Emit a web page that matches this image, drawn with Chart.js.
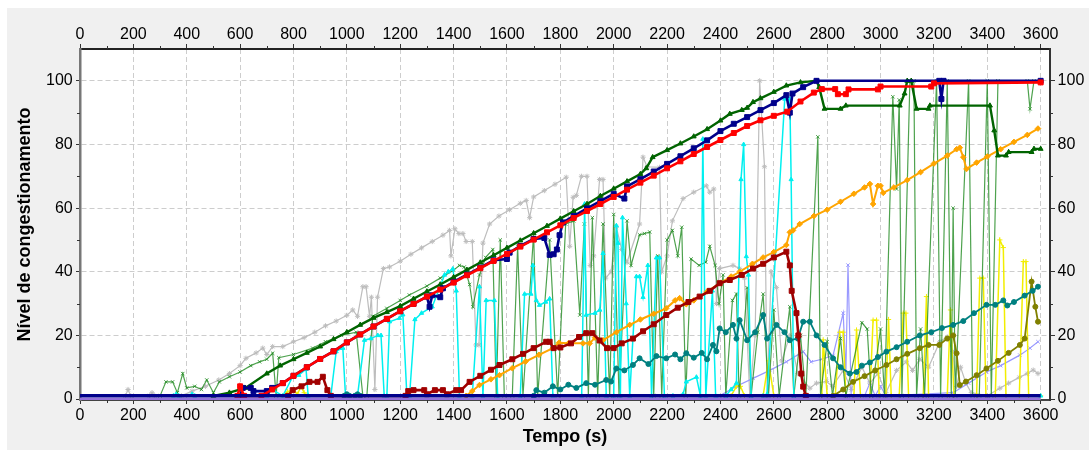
<!DOCTYPE html>
<html>
<head>
<meta charset="utf-8">
<script src="https://cdn.jsdelivr.net/npm/chart.js@4.4.1/dist/chart.umd.min.js"></script>
<style>
  body { margin: 0; background: #fff; }
  #frame { position: absolute; left: 7px; top: 8px; width: 1082px; height: 442px; background: #f0f0f0; }
  #myChart { position: absolute; left: 0; top: 0; }
</style>
</head>
<body>
<div id="frame"></div>
<canvas id="myChart" width="1089" height="452"></canvas>
<script>
const xTicks = [0, 200, 400, 600, 800, 1000, 1200, 1400, 1600, 1800, 2000, 2200, 2400, 2600, 2800, 3000, 3200, 3400, 3600];
const yTicks = [0, 20, 40, 60, 80, 100];

// [tempo (s), nivel]
const baseNavy = [[0, 1], [3600, 1]];
const basePurple = [[0, 0], [3600, 0]];

const redPts = [[590,1],[600,4],[615,1],[680,1],[720,3],[760,5],[800,7.3],[850,10],[900,12.6],[950,15],[1000,17.8],[1050,20.3],[1100,22.8],[1150,25.2],[1200,27.6],[1250,29.9],[1300,32.2],[1350,34.4],[1400,36.6],[1450,38.9],[1500,41.1],[1550,43.4],[1600,45.6],[1650,47.9],[1700,50.1],[1750,52.4],[1800,54.6],[1850,56.9],[1900,59.1],[1950,61.3],[2000,63.5],[2050,65.8],[2100,68],[2150,70.2],[2200,72.5],[2250,74.7],[2300,77],[2350,79.2],[2400,81.4],[2450,83.6],[2500,85.8],[2550,87.6],[2600,89],[2650,90.3],[2700,93.5],[2750,96.3],[2780,97.4],[2830,97.4],[2840,95.8],[2870,95.8],[2880,97.3],[2990,97.3],[3000,98.2],[3190,98.2],[3200,99.2],[3600,99.5]];

const navyPts = [[600,1],[610,3.5],[640,3.5],[650,2.5],[700,2.5],[720,3.5],[760,5],[800,7.3],[850,10],[900,12.6],[950,15],[1000,17.8],[1050,20.3],[1100,22.8],[1150,25.2],[1200,27.6],[1250,29.9],[1300,32.2],[1310,29],[1320,32.6],[1350,32],[1360,34.8],[1400,36.8],[1450,39.1],[1500,41.3],[1550,43.6],[1600,44],[1610,46],[1650,48.1],[1700,50.3],[1740,50.6],[1760,45.3],[1775,45.5],[1787,47],[1797,51.5],[1810,55.5],[1850,57.5],[1900,59.9],[1950,62.2],[2000,64.5],[2040,63],[2050,66.8],[2100,69.1],[2150,71.5],[2200,73.9],[2250,76.3],[2300,78.8],[2350,81.3],[2400,84.2],[2450,86.5],[2500,88.6],[2550,90.8],[2600,93],[2647,95.5],[2660,90],[2670,96],[2710,98],[2760,100],[3220,100],[3228,94.3],[3236,100],[3600,100]];

const darkGreenPts = [[500,1],[560,2],[620,3.5],[700,8],[750,10.5],[800,12.5],[850,14.5],[900,16.5],[950,18.8],[1000,21],[1050,23.3],[1100,25.5],[1150,27.3],[1200,29.2],[1250,31.5],[1300,33.8],[1350,36],[1400,38.3],[1450,40.6],[1500,42.9],[1550,45.2],[1600,47.5],[1650,49.8],[1700,52.1],[1750,54.4],[1800,56.7],[1850,59],[1900,61.3],[1950,63.8],[2000,66.1],[2050,68.4],[2100,70.7],[2122,72.5],[2146,76],[2200,78.2],[2250,80.3],[2300,82.5],[2350,84.8],[2400,87.5],[2435,89.6],[2480,90.8],[2500,91.5],[2522,93.3],[2550,94.5],[2600,96.5],[2647,98.5],[2700,99.5],[2760,100],[2770,98],[2790,91.2],[2850,91.2],[2870,92.2],[3072,92.2],[3090,96],[3100,100],[3115,100],[3135,91.2],[3180,91.2],[3185,92.2],[3410,92.2],[3426,84.4],[3440,76.5],[3470,76.5],[3480,77.6],[3566,77.6],[3575,78.6],[3600,78.6]];

const greenPts = [[300,1],[322,5.4],[347,5.4],[365,2],[385,8],[400,3.5],[430,4],[455,3],[475,6],[500,2],[522,5.4],[560,7],[600,8.5],[640,10.5],[673,11.7],[700,12.5],[722,14.4],[735,1],[745,13],[800,14],[872,16],[920,18],[980,20],[1035,21],[1060,1],[1075,1],[1097,26],[1150,28.5],[1200,31],[1234,32.7],[1300,35.5],[1350,38],[1400,40.5],[1422,42],[1440,41.5],[1460,36],[1472,29],[1497,39],[1520,44.5],[1547,47],[1560,1],[1575,50],[1590,1],[1620,1],[1640,48],[1660,1],[1700,52],[1715,1],[1760,50],[1790,1],[1820,55],[1850,56],[1873,26.4],[1890,55],[1905,1],[1920,57],[1940,1],[1960,55],[1985,1],[2000,58],[2020,1],[2050,56],[2065,42],[2097,51.6],[2115,52],[2135,52.5],[2150,1],[2165,45],[2180,1],[2200,50],[2220,53],[2240,45],[2255,54],[2270,1],[2290,44],[2320,42],[2345,43],[2360,48],[2380,42],[2395,30],[2410,39],[2420,1],[2445,31],[2460,33],[2470,1],[2500,35],[2515,1],[2540,21],[2560,33],[2580,1],[2600,28],[2620,1],[2660,29],[2675,1],[2700,20],[2720,1],[2765,82.4],[2775,1],[2800,18],[2820,1],[2850,19],[2870,1],[2930,24],[2950,22],[2965,1],[3000,22],[3015,1],[3046,95],[3060,66],[3070,94],[3080,1],[3110,100],[3125,100],[3135,1],[3150,22],[3165,1],[3210,100],[3225,1],[3250,100],[3265,1],[3272,60],[3280,1],[3330,100],[3345,1],[3370,1],[3400,100],[3415,1],[3440,100],[3550,100],[3560,91.2],[3575,100],[3600,100]];

const grayPts = [[170,1],[180,3],[190,1],[260,1],[270,2],[280,1],[380,1],[420,2.5],[470,4],[520,6],[560,8],[600,10.5],[622,12.8],[660,14.5],[685,16],[700,14],[722,16.5],[760,16.5],[800,18],[840,19.3],[880,21],[920,23],[960,24.5],[1000,26.3],[1022,28],[1040,26],[1060,35.3],[1072,35.3],[1085,26],[1092,32],[1105,3],[1115,32],[1137,41],[1160,41.5],[1200,43.3],[1240,45.5],[1280,47.5],[1320,49.5],[1360,51.5],[1385,53],[1390,45],[1405,53.5],[1420,52],[1435,52],[1447,49.5],[1470,49.5],[1484,17],[1495,17],[1510,49],[1535,55],[1570,57.5],[1610,59.5],[1650,61.5],[1672,62.4],[1685,57],[1700,63.5],[1740,65.5],[1780,67.5],[1822,69.7],[1835,48],[1848,63.4],[1860,64],[1879,70],[1900,70],[1912,42],[1925,45],[1947,69],[1960,69],[1970,38],[1990,40],[2010,54],[2030,47],[2050,43],[2097,55],[2110,76],[2125,73],[2172,72.8],[2180,40],[2200,45],[2220,56],[2260,63],[2300,65],[2347,67],[2360,65],[2375,66],[2385,30],[2397,41],[2447,42],[2472,41],[2490,38],[2510,1],[2530,20],[2547,100],[2565,73],[2575,1],[2590,40],[2610,35],[2630,12],[2660,20],[2690,8],[2735,3.4],[2760,5],[2797,5.5],[2820,4],[2860,9],[2890,3],[2930,10],[2960,5],[2990,8],[3020,2],[3060,9],[3097,11.7],[3120,9],[3147,12.5],[3180,10],[3222,18],[3250,19.5],[3270,15],[3285,4],[3300,10],[3320,5],[3340,2],[3400,1],[3447,3.4],[3480,5],[3520,6.8],[3550,8],[3572,9.1],[3590,8]];

const cyanPts = [[350,1],[360,1.5],[370,1],[420,1.5],[430,1],[700,1],[720,3],[760,1],[797,7],[820,7.5],[847,9.4],[855,1],[940,1],[960,14.9],[980,16],[985,16],[995,1],[1040,1],[1066,18.5],[1090,19],[1116,20],[1128,20],[1140,1],[1150,1],[1160,24.3],[1197,25.4],[1210,26.5],[1225,1],[1235,1],[1255,25],[1280,27],[1320,29],[1366,39],[1380,40],[1397,40.9],[1410,34],[1422,1],[1470,1],[1497,35.3],[1510,1],[1522,31],[1553,31],[1565,1],[1650,1],[1666,33],[1690,33],[1697,42],[1710,31],[1722,29.5],[1745,30.5],[1760,31.5],[1772,1],[1880,1],[1891,61.3],[1897,26.4],[1930,27],[1948,28],[1960,45.8],[1972,1],[2000,1],[2010,54.5],[2016,49],[2025,1],[2033,57],[2047,30],[2060,1],[2085,38.5],[2097,38.5],[2110,32],[2128,42],[2142,1],[2160,44.4],[2172,44.4],[2190,1],[2222,1],[2260,1.5],[2272,5.4],[2310,6.9],[2325,1],[2334,81.7],[2345,1],[2370,34],[2382,1],[2420,1],[2440,3],[2460,5],[2477,69],[2487,80],[2497,44.8],[2505,39],[2515,1],[2560,1],[2575,1.5],[2641,94.3],[2660,94.3],[2665,69],[2675,1],[3600,1]];

const maroonPts = [[780,1],[797,2.8],[830,4],[860,5.4],[890,5.4],[910,7],[927,2.8],[940,1],[1220,1],[1230,2.5],[1250,2.8],[1290,2.8],[1300,1.5],[1330,2.8],[1360,2.8],[1375,1.5],[1410,2.8],[1428,2.8],[1460,5.4],[1500,7.3],[1540,9.2],[1572,10.7],[1620,12.5],[1660,14.2],[1700,16],[1747,18],[1760,18],[1775,16],[1800,16.2],[1840,17.5],[1870,19.5],[1897,20.7],[1920,20.7],[1947,18.4],[1975,16],[2000,16],[2030,17.5],[2072,19],[2110,21.3],[2150,23.5],[2197,26.4],[2240,28.7],[2280,30.5],[2322,32.2],[2360,34],[2397,36.4],[2435,37.4],[2480,39],[2522,41],[2560,42.5],[2600,44.5],[2647,46.3],[2660,42],[2667,34],[2685,27],[2692,20],[2703,8],[2710,3.9],[2720,1]];

const orangePts = [[1447,1],[1470,2.5],[1497,4.4],[1540,6.2],[1572,7.5],[1620,9.7],[1670,11.8],[1720,13.9],[1772,16],[1795,17.7],[1830,17.5],[1885,17.5],[1910,17.5],[1930,19.3],[1960,18.5],[2010,21],[2060,23.3],[2100,25],[2150,26.8],[2197,28.5],[2230,31],[2247,31.7],[2272,29.8],[2300,31],[2350,33.8],[2400,36.5],[2440,38.5],[2472,40],[2520,42.5],[2560,44.5],[2600,46.2],[2647,48.4],[2660,52.4],[2672,53],[2697,55],[2750,57.5],[2800,59.5],[2850,62],[2900,64.5],[2940,66.5],[2960,67.6],[2972,61.3],[2990,67],[3000,67],[3010,64.8],[3050,66.5],[3100,68.8],[3150,71.3],[3200,74],[3250,76.5],[3285,78.5],[3297,79],[3310,76],[3322,72.3],[3360,74.3],[3400,76.2],[3450,78.5],[3500,80.8],[3550,83],[3590,85]];

const tealPts = [[990,1],[1000,1.5],[1010,1],[1030,1],[1040,1.5],[1050,1],[1700,1],[1710,2.8],[1740,2],[1772,4],[1800,3],[1830,4.5],[1860,3.5],[1897,5],[1930,4.5],[1972,6],[1990,5.5],[2010,9.6],[2040,9],[2072,10.7],[2097,12.8],[2130,11],[2160,13.5],[2197,12.8],[2230,14],[2250,12.5],[2272,14.4],[2300,13],[2330,14.5],[2350,12.5],[2372,17],[2385,15],[2397,22.2],[2420,21],[2447,23.3],[2460,19],[2472,24.8],[2500,18.5],[2530,21],[2560,26.4],[2575,19],[2610,23.3],[2640,21],[2660,18.5],[2690,19],[2710,24.3],[2735,24.3],[2760,20],[2790,17],[2822,12.8],[2850,10],[2885,8],[2910,8.5],[2930,10.5],[2960,11.5],[2990,13.2],[3022,14.9],[3060,16.3],[3100,18],[3147,20],[3190,21],[3230,22.3],[3272,23.3],[3310,24.5],[3350,27],[3397,29.6],[3430,29.6],[3460,31],[3475,29.4],[3500,30.5],[3540,32.5],[3570,34],[3590,35.3]];

const olivePts = [[2822,1],[2860,3],[2897,5.4],[2940,7.2],[2980,9],[3022,10.7],[3060,12.5],[3100,14.2],[3147,16],[3180,17],[3220,17],[3250,19],[3272,20],[3285,14.4],[3297,4.4],[3320,5.5],[3360,7.5],[3397,9.6],[3440,12],[3480,14.5],[3522,17],[3540,19],[3566,36.9],[3580,29],[3590,24.3]];

const yellowPts = [[760,1],[778,2.3],[800,3],[815,1.5],[828,4],[840,2],[850,1],[2440,1],[2460,4],[2475,4],[2490,1],[2560,1],[2580,12],[2600,1],[2780,1],[2785,18.6],[2800,1],[2830,1],[2847,21],[2860,21],[2870,1],[2900,1],[2910,21.7],[2925,1],[2960,1],[2972,24.8],[2985,24.8],[2995,1],[3020,1],[3030,25],[3040,1],[3070,1],[3085,27],[3095,27],[3105,1],[3160,1],[3172,32.2],[3180,1],[3250,1],[3262,28],[3275,1],[3360,1],[3372,38],[3385,38],[3395,1],[3430,1],[3447,50],[3460,47.6],[3470,1],[3520,1],[3535,43.2],[3545,43.2],[3555,1],[3600,1]];

const lavenderPts = [[2397,1],[2460,4],[2522,6.5],[2585,9],[2647,11.7],[2710,14.9],[2740,11.7],[2780,12.5],[2822,13.7],[2860,27],[2870,8],[2878,42.1],[2890,1],[2940,1],[2960,5],[2980,1],[3000,4],[3020,1],[3272,2],[3330,5],[3397,8.5],[3450,10.5],[3522,13.8],[3560,16],[3590,18]];

function serie(pts, color, style, radius, width) {
    return {
        data: pts.map(p => ({x: p[0], y: p[1]})),
        borderColor: color,
        backgroundColor: color,
        pointStyle: style,
        pointRadius: radius,
        pointBorderWidth: 1,
        borderWidth: width,
        tension: 0,
        clip: 0
    };
}

const plotBg = {
    id: 'plotBg',
    beforeDraw(chart) {
        const {ctx, chartArea: a} = chart;
        ctx.save();
        ctx.fillStyle = '#ffffff';
        ctx.fillRect(a.left, a.top, a.right - a.left, a.bottom - a.top);
        ctx.restore();
    }
};

// ZedGraph style minor ticks, halfway between the major ones
const minorTicks = {
    id: 'minorTicks',
    afterDraw(chart) {
        const ctx = chart.ctx;
        const mid = arr => arr.slice(1).map((v, i) => (arr[i] + v) / 2);
        ctx.save();
        ctx.strokeStyle = '#333';
        ctx.lineWidth = 1;
        ctx.beginPath();
        ['x', 'x2'].forEach(id => {
            const s = chart.scales[id];
            const y0 = id === 'x' ? s.top : s.bottom;
            const dir = id === 'x' ? 1 : -1;
            mid(xTicks).forEach(v => {
                const px = Math.round(s.getPixelForValue(v)) + 0.5;
                ctx.moveTo(px, y0);
                ctx.lineTo(px, y0 + dir * 3);
            });
        });
        ['y', 'y2'].forEach(id => {
            const s = chart.scales[id];
            const x0 = id === 'y' ? s.right : s.left;
            const dir = id === 'y' ? -1 : 1;
            mid(yTicks).forEach(v => {
                const py = Math.round(s.getPixelForValue(v)) + 0.5;
                ctx.moveTo(x0, py);
                ctx.lineTo(x0 + dir * 3, py);
            });
        });
        ctx.stroke();
        ctx.restore();
    }
};

Chart.defaults.font.family = "'Liberation Sans', Arial, sans-serif";
Chart.defaults.color = '#000';

const xSetTicks = s => { s.ticks = xTicks.map(v => ({value: v})); };
const ySetTicks = s => { s.ticks = yTicks.map(v => ({value: v})); };
const plain = v => String(v);

var chart = new Chart("myChart", {
    type: "line",
    data: {
        datasets: [
            serie(baseNavy, '#00008b', 'rect', 0, 3.5),
            serie(basePurple, '#9370db', 'rect', 0, 2.5),
            serie(redPts, '#ff0000', 'rect', 3.5, 2.6),
            serie(navyPts, '#00008b', 'rect', 3.5, 2.6),
            serie(darkGreenPts, '#006400', 'triangle', 2.8, 2.4),
            serie(maroonPts, '#a00000', 'rect', 3.5, 2.6),
            serie(orangePts, '#ffa500', 'rectRot', 2.8, 2),
            serie(tealPts, '#008080', 'circle', 2.5, 1.8),
            serie(olivePts, '#808000', 'circle', 2.5, 1.8),
            serie(cyanPts, '#00f0f0', 'triangle', 2.4, 1.5),
            serie(greenPts, 'rgba(34,139,34,0.8)', 'crossRot', 2.4, 1.2),
            serie(yellowPts, '#f2ee00', 'cross', 2.6, 1.5),
            serie(lavenderPts, '#9999ff', 'crossRot', 2.4, 1.2),
            serie(grayPts, '#bdbdbd', 'star', 2.6, 1.2)
        ]
    },
    options: {
        responsive: false,
        animation: false,
        layout: { padding: { left: 7, top: 8, right: 0, bottom: 0 } },
        plugins: { legend: { display: false }, tooltip: { enabled: false } },
        scales: {
            x: {
                type: 'linear', position: 'bottom', min: 0, max: 3635,
                afterBuildTicks: xSetTicks,
                afterFit: s => { s.height = 52; },
                ticks: { font: { size: 16 }, padding: 2.4, maxRotation: 0, autoSkip: false, callback: plain },
                grid: { color: '#cdcdcd', tickColor: '#333', tickLength: 4 },
                border: { color: '#444', width: 2, dash: [5, 3] },
                title: { display: true, text: 'Tempo (s)', font: { size: 18, weight: 'bold' }, padding: { top: 0, bottom: 4.5 } }
            },
            x2: {
                type: 'linear', position: 'top', min: 0, max: 3635,
                afterBuildTicks: xSetTicks,
                afterFit: s => { s.height = 41; },
                ticks: { font: { size: 16 }, padding: 0, maxRotation: 0, autoSkip: false, callback: plain },
                grid: { drawOnChartArea: false, tickColor: '#333', tickLength: 5 },
                border: { color: '#222', width: 2 }
            },
            y: {
                type: 'linear', position: 'left', min: -0.3, max: 110,
                afterBuildTicks: ySetTicks,
                afterFit: s => { s.width = 73; },
                ticks: { font: { size: 16 }, padding: 3.3, callback: plain },
                grid: { color: '#cdcdcd', tickColor: '#333', tickLength: 4 },
                border: { color: '#777', width: 2.5, dash: [5, 3] },
                title: { display: true, text: 'Nível de congestionamento', font: { size: 18, weight: 'bold' }, padding: { top: 6.9, bottom: 0 } }
            },
            y2: {
                type: 'linear', position: 'right', min: -0.3, max: 110,
                afterBuildTicks: ySetTicks,
                afterFit: s => { s.width = 39; },
                ticks: { font: { size: 16 }, padding: 2.6, callback: plain },
                grid: { drawOnChartArea: false, tickColor: '#333', tickLength: 5 },
                border: { color: '#333', width: 2 }
            }
        }
    },
    plugins: [plotBg, minorTicks]
});
</script>
</body>
</html>
